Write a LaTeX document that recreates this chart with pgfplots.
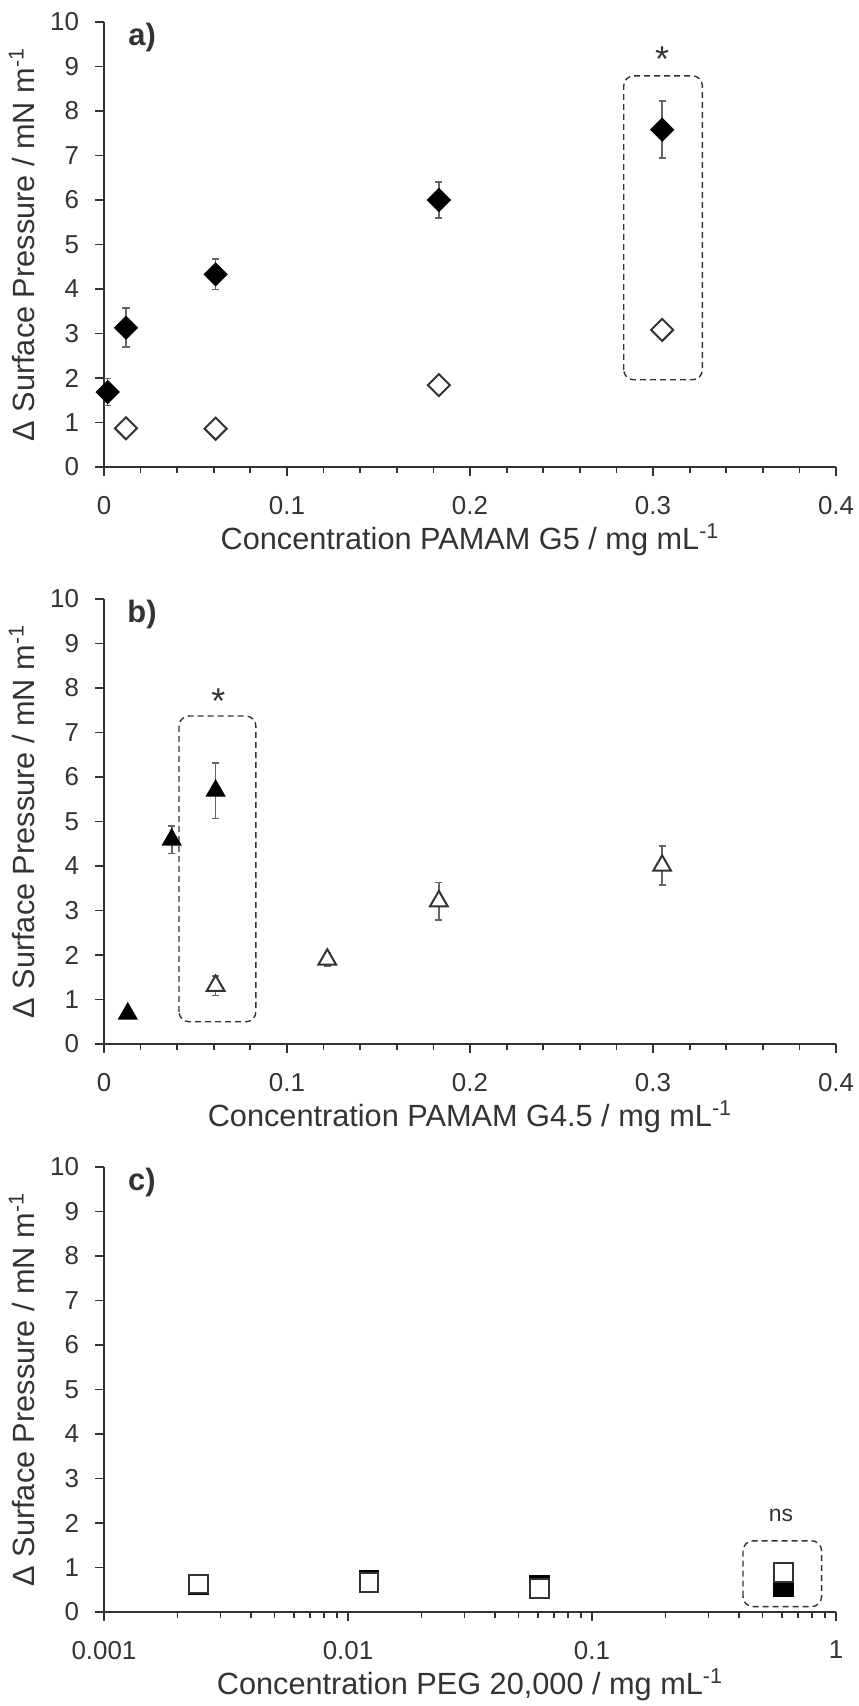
\documentclass[border=0pt]{standalone}
\usepackage{fontspec}
\setmainfont{Liberation Sans}
\usepackage{pgfplots}
\pgfplotsset{compat=1.18}
\definecolor{axgray}{gray}{0.2}
\definecolor{errgray}{gray}{0.4}
\tikzset{
  dbox/.style={draw=axgray, line width=0.7bp, dash pattern=on 3bp off 2bp, rounded corners=5bp},
  panlab/.style={font=\bfseries\fontsize{15.5}{18}\selectfont, text=axgray},
  star/.style={font=\fontsize{18}{20}\selectfont, text=axgray, inner sep=0pt, anchor=north},
}
\pgfplotsset{
  panel/.style={
    scale only axis, width=366bp, height=222.5bp,
    clip=false,
    axis lines=left, axis line style={-, axgray, line width=1.1bp},
    ymin=0, ymax=10, ytick={0,1,...,10},
    tick align=outside,
    major tick length=4.5bp, minor tick length=3bp,
    every tick/.style={axgray, line width=0.9bp},
    tick label style={font=\fontsize{13}{16}\selectfont, text=axgray},
    xticklabel style={yshift=-6.5bp},
    yticklabel style={xshift=-4.5bp},
    /pgf/number format/assume math mode=true,
    label style={font=\fontsize{15.4}{18}\selectfont, text=axgray},
    xlabel style={at={(axis description cs:0.5,-0.1843)}, anchor=base},
    ylabel style={at={(axis description cs:-0.0956,0.5)}, anchor=base},
    ylabel={Δ Surface Pressure / mN m\textsuperscript{-1}},
  },
  linx/.style={
    xmin=0, xmax=0.4, xtick={0,0.1,0.2,0.3,0.4}, minor x tick num=4,
    xticklabel style={/pgf/number format/fixed},
  },
  errs/.style={
    error bars/.cd, y dir=both, y explicit,
    error bar style={errgray, line width=0.8bp},
    error mark options={errgray, line width=0.8bp, mark size=1.8bp, rotate=90},
  },
  fdia/.style={only marks, mark=square*, mark size=3.9bp,
    mark options={rotate=45, draw=black, fill=black, line width=0.8bp}},
  odia/.style={only marks, mark=square*, mark size=3.9bp,
    mark options={rotate=45, draw=axgray, fill=white, line width=1bp}},
  ftri/.style={only marks, mark=triangle*, mark size=5.1bp,
    mark options={draw=black, fill=black, line width=0.8bp}},
  otri/.style={only marks, mark=triangle*, mark size=5.1bp,
    mark options={draw=axgray, fill=white, line width=1bp}},
  fsq/.style={only marks, mark=square*, mark size=4.7bp,
    mark options={draw=black, fill=black, line width=1bp}},
  osq/.style={only marks, mark=square*, mark size=4.7bp,
    mark options={draw=axgray, fill=white, line width=1bp}},
}
\begin{document}
\begin{tikzpicture}
\useasboundingbox (-52bp,-619.5bp) rectangle (377.5bp,233.5bp);

% ---------- panel a ----------
\begin{axis}[panel, linx, at={(0bp,0bp)}, anchor=south west,
  xlabel={Concentration PAMAM G5 / mg mL\textsuperscript{-1}}]
\draw[dbox] (axis cs:0.284,1.96) rectangle (axis cs:0.327,8.79);
\addplot[fdia, errs] coordinates {
  (0.002,1.685) +- (0,0.30)
  (0.012,3.13) +- (0,0.44)
  (0.061,4.33) +- (0,0.34)
  (0.183,6.00) +- (0,0.41)
  (0.305,7.58) +- (0,0.64)
};
\addplot[odia] coordinates {
  (0.012,0.87) (0.061,0.86) (0.183,1.84) (0.305,3.08)
};
\node[panlab] at (axis cs:0.0208,9.65) {a)};
\node[star] at (axis cs:0.305,9.45) {*};
\end{axis}

% ---------- panel b ----------
\begin{axis}[panel, linx, at={(0bp,-288.5bp)}, anchor=south west,
  xlabel={Concentration PAMAM G4.5 / mg mL\textsuperscript{-1}}]
\draw[dbox] (axis cs:0.041,0.5) rectangle (axis cs:0.083,7.37);
\addplot[ftri, errs] coordinates {
  (0.013,0.68) +- (0,0.08)
  (0.037,4.59) +- (0,0.31)
  (0.061,5.69) +- (0,0.62)
};
\addplot[otri, errs] coordinates {
  (0.061,1.31) +- (0,0.22)
  (0.122,1.90) +- (0,0.15)
  (0.183,3.21) +- (0,0.42)
  (0.305,4.01) +- (0,0.44)
};
\node[panlab] at (axis cs:0.0208,9.66) {b)};
\node[star] at (axis cs:0.0625,7.99) {*};
\end{axis}

% ---------- panel c ----------
\begin{axis}[panel, at={(0bp,-572.5bp)}, anchor=south west,
  xmode=log, log basis x=10, xmin=0.001, xmax=1,
  log ticks with fixed point,
  xticklabel style={/pgf/number format/precision=3},
  xlabel={Concentration PEG 20,000 / mg mL\textsuperscript{-1}}]
\draw[dbox] (axis cs:0.416,0.12) rectangle (axis cs:0.873,1.60);
\addplot[fsq] coordinates {
  (0.00244,0.62) (0.0122,0.70) (0.061,0.60) (0.61,0.56)
};
\addplot[osq] coordinates {
  (0.00244,0.63) (0.0122,0.66) (0.061,0.53) (0.61,0.88)
};
\node[panlab] at (axis cs:0.00143,9.66) {c)};
\node[font=\fontsize{11.5}{14}\selectfont, text=axgray, inner sep=0pt, anchor=base] at (axis cs:0.595,2.03) {ns};
\end{axis}
\end{tikzpicture}
\end{document}
